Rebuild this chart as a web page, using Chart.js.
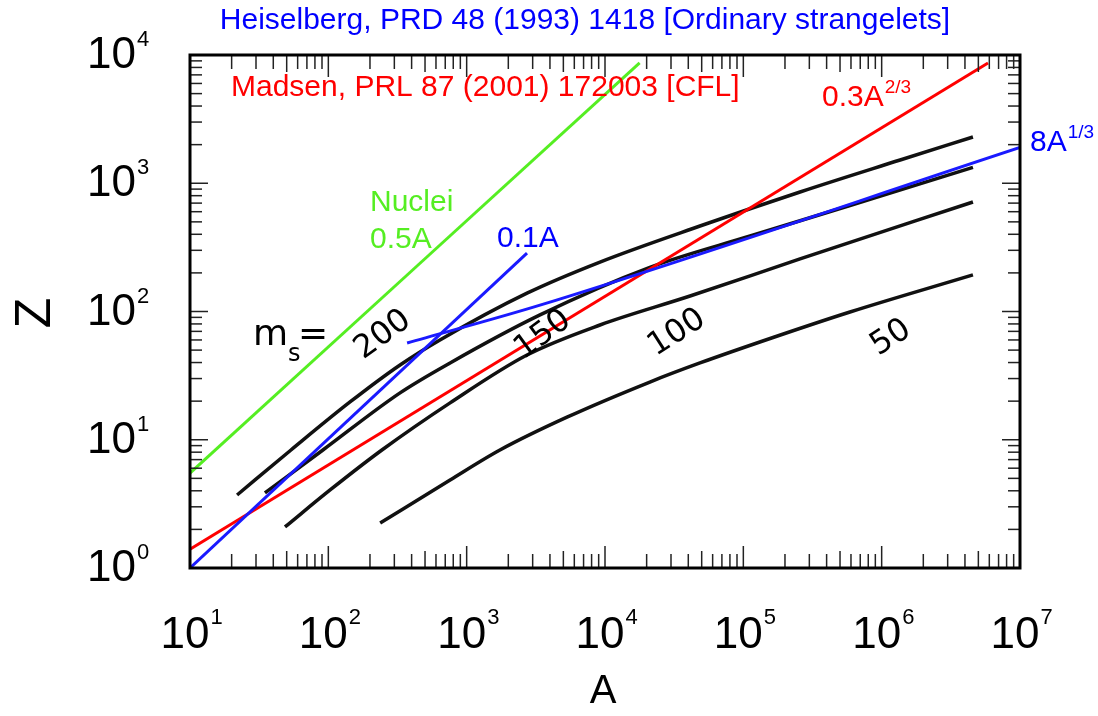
<!DOCTYPE html>
<html>
<head>
<meta charset="utf-8">
<script src="https://cdn.jsdelivr.net/npm/chart.js@4.4.1/dist/chart.umd.min.js"></script>
<style>
  html, body { margin: 0; padding: 0; background: #fff; }
</style>
</head>
<body>
<canvas id="zChart" width="1098" height="716"></canvas>
<script>
// strangelet charge Z(A) for m_s = 200, 150, 100, 50
const a200 = [21.9, 53.7, 143.5, 330, 641, 2730, 9200, 48600, 257000, 1360000, 4570000];
const z200 = [3.71, 8.32, 19.7, 38.3, 60.0, 139, 243, 464, 855, 1518, 2295];
const a150 = [34.8, 91.4, 330, 759, 3390, 21100, 112000, 590000, 4570000];
const z150 = [3.85, 8.32, 23.2, 39.7, 94, 221, 388, 671, 1330];
const a100 = [48.6, 103, 244, 759, 2730, 9200, 41200, 257000, 4570000];
const z100 = [2.09, 4.06, 8.32, 19.4, 45.8, 78.5, 132, 257, 714];
const a50 = [237, 759, 1740, 5310, 21100, 48600, 164000, 590000, 4570000];
const z50 = [2.24, 4.86, 8.32, 15.0, 28.2, 39.7, 62.7, 99.1, 193];

// overlaid reference lines
const nucleiA = [10, 17800];         // 0.5A
const nucleiZ = [5.5, 8665];
const smallA = [10, 2730];           // 0.1A
const smallZ = [1, 285];
const cflA = [10, 5870000];          // 0.3A^(2/3)
const cflZ = [1.40, 8665];
const surfA = [371, 3390, 10000000]; // 8A^(1/3)
const surfZ = [56.8, 112, 1900];

// decade exponents for the axes
const xExponents = [1, 2, 3, 4, 5, 6, 7];
const yExponents = [0, 1, 2, 3, 4];

function pts(a, z) {
    return a.map((v, i) => ({ x: v, y: z[i] }));
}

function line(ctx, x1, y1, x2, y2) {
    ctx.beginPath();
    ctx.moveTo(x1, y1);
    ctx.lineTo(x2, y2);
    ctx.stroke();
}

// text with a raised small part, e.g. 10^4, 0.3A^2/3
function supText(ctx, base, sup, x, y, bigFont, smallFont, shift, align) {
    ctx.font = bigFont;
    const w1 = ctx.measureText(base).width;
    let left = x;
    if (align === 'center') left = x - w1 / 2;
    if (align === 'right') left = x - w1;
    ctx.textAlign = 'left';
    ctx.textBaseline = 'middle';
    ctx.fillText(base, left, y);
    ctx.font = smallFont;
    ctx.fillText(sup, left + w1 + 1, y + shift);
}

const decor = {
    id: 'decor',
    beforeDraw(chart) {
        const ctx = chart.ctx;
        ctx.save();
        ctx.fillStyle = '#fff';
        ctx.fillRect(0, 0, chart.width, chart.height);
        ctx.restore();
    },
    afterDatasetsDraw(chart) {
        const { ctx, chartArea: ca, scales: { x, y } } = chart;
        ctx.save();

        // inward tick marks
        ctx.strokeStyle = '#222';
        ctx.lineWidth = 1.5;
        xExponents.forEach(e => {
            for (let k = 1; k <= 9; k++) {
                const v = k * Math.pow(10, e);
                if (v > x.max * 1.0001) break;
                const px = x.getPixelForValue(v);
                const len = k === 1 ? 22 : (k === 5 ? 17 : 14);
                line(ctx, px, ca.bottom, px, ca.bottom - len);
                line(ctx, px, ca.top, px, ca.top + len);
            }
        });
        yExponents.forEach(e => {
            for (let k = 1; k <= 9; k++) {
                const v = k * Math.pow(10, e);
                if (v > y.max * 1.0001) break;
                const py = y.getPixelForValue(v);
                const len = k === 1 ? 18 : 12;
                line(ctx, ca.left, py, ca.left + len, py);
                line(ctx, ca.right, py, ca.right - len, py);
            }
        });

        // frame
        ctx.strokeStyle = '#000';
        ctx.lineWidth = 3;
        ctx.strokeRect(ca.left, ca.top, ca.right - ca.left, ca.bottom - ca.top);

        // tick labels
        ctx.fillStyle = '#000';
        const big = '44px "Liberation Sans", Arial, sans-serif';
        const small = '22px "Liberation Sans", Arial, sans-serif';
        xExponents.forEach(e => {
            const px = x.getPixelForValue(Math.pow(10, e));
            supText(ctx, '10', String(e), px - 5, 636, big, small, -18, 'center');
        });
        yExponents.forEach(e => {
            const py = y.getPixelForValue(Math.pow(10, e));
            supText(ctx, '10', String(e), 136, py + 1, big, small, -16, 'right');
        });

        // axis titles
        ctx.textAlign = 'center';
        ctx.textBaseline = 'middle';
        ctx.font = '40px "Liberation Sans", Arial, sans-serif';
        ctx.fillText('A', 603, 692);
        ctx.save();
        ctx.translate(36, 313);
        ctx.rotate(-Math.PI / 2);
        ctx.font = '50px "Liberation Sans", Arial, sans-serif';
        ctx.fillText('Z', 0, 0);
        ctx.restore();

        // references
        const note = '30px "Liberation Sans", Arial, sans-serif';
        const noteSup = '19px "Liberation Sans", Arial, sans-serif';
        ctx.font = note;
        ctx.textAlign = 'center';
        ctx.fillStyle = '#0000ff';
        ctx.fillText('Heiselberg, PRD 48 (1993) 1418 [Ordinary strangelets]', 585, 21);
        ctx.textAlign = 'left';
        ctx.fillStyle = '#ff0000';
        ctx.fillText('Madsen, PRL 87 (2001) 172003 [CFL]', 231, 88);

        // line labels
        ctx.fillStyle = '#55ee22';
        ctx.fillText('Nuclei', 370, 203);
        ctx.fillText('0.5A', 370, 240);
        ctx.fillStyle = '#0000ff';
        ctx.fillText('0.1A', 497, 239);
        supText(ctx, '8A', '1/3', 1030, 143, note, noteSup, -10, 'left');
        ctx.fillStyle = '#ff0000';
        supText(ctx, '0.3A', '2/3', 822, 98, note, noteSup, -10, 'left');

        // m_s labels
        ctx.fillStyle = '#000';
        const ms = '36px "DejaVu Sans", sans-serif';
        ctx.font = ms;
        ctx.textAlign = 'left';
        ctx.fillText('m', 253, 336);
        const mw = ctx.measureText('m').width;
        ctx.font = '24px "DejaVu Sans", sans-serif';
        ctx.fillText('s', 253 + mw, 355);
        ctx.font = ms;
        ctx.fillText('=', 298, 336);

        const rotated = [['200', 383, 335, -0.63], ['150', 543, 335, -0.63], ['100', 677, 333, -0.57], ['50', 891, 338, -0.57]];
        ctx.font = '32px "DejaVu Sans", sans-serif';
        ctx.textAlign = 'center';
        rotated.forEach(r => {
            ctx.save();
            ctx.translate(r[1], r[2]);
            ctx.rotate(r[3]);
            ctx.fillText(r[0], 0, 0);
            ctx.restore();
        });

        ctx.restore();
    }
};

const black = { borderColor: '#111', borderWidth: 3.5, showLine: true, pointRadius: 0, fill: false };

new Chart(document.getElementById('zChart').getContext('2d'), {
    type: 'scatter',
    data: {
        datasets: [
            { label: '0.5A', data: pts(nucleiA, nucleiZ), borderColor: '#55ee22', borderWidth: 3, showLine: true, pointRadius: 0 },
            { label: '8A^1/3', data: pts(surfA, surfZ), borderColor: '#1a1aff', borderWidth: 3, showLine: true, pointRadius: 0 },
            { label: '0.1A', data: pts(smallA, smallZ), borderColor: '#1a1aff', borderWidth: 3, showLine: true, pointRadius: 0 },
            { label: '0.3A^2/3', data: pts(cflA, cflZ), borderColor: '#ff0000', borderWidth: 3, showLine: true, pointRadius: 0 },
            Object.assign({ label: '200', data: pts(a200, z200) }, black),
            Object.assign({ label: '150', data: pts(a150, z150) }, black),
            Object.assign({ label: '100', data: pts(a100, z100) }, black),
            Object.assign({ label: '50', data: pts(a50, z50) }, black)
        ]
    },
    options: {
        responsive: false,
        devicePixelRatio: 1,
        animation: false,
        layout: { padding: { left: 190, right: 78, top: 55, bottom: 148 } },
        plugins: { legend: { display: false }, tooltip: { enabled: false } },
        elements: { line: { tension: 0.3, cubicInterpolationMode: 'monotone' } },
        scales: {
            x: { type: 'logarithmic', min: 10, max: 10000000, display: false },
            y: { type: 'logarithmic', min: 1, max: 10000, display: false }
        }
    },
    plugins: [decor]
});
</script>
</body>
</html>
